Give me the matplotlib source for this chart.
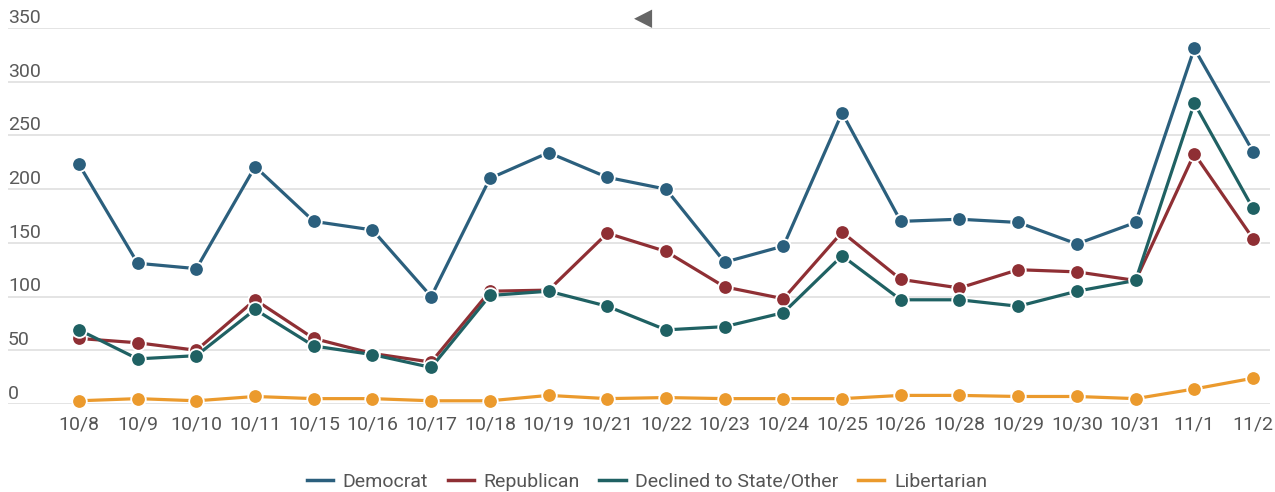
import matplotlib
matplotlib.use("Agg")
import matplotlib.pyplot as plt
import matplotlib.transforms as mtransforms
from matplotlib.lines import Line2D

plt.rcParams["font.family"] = ["Roboto", "DejaVu Sans"]

# data
dates = ["10/8", "10/9", "10/10", "10/11", "10/15", "10/16", "10/17", "10/18", "10/19",
         "10/21", "10/22", "10/23", "10/24", "10/25", "10/26", "10/28", "10/29", "10/30",
         "10/31", "11/1", "11/2"]
democrat = [223, 131, 126, 221, 170, 162, 100, 210, 234, 211, 200, 132, 147, 271, 170,
            172, 169, 149, 169, 331, 235]
republican = [61, 57, 50, 97, 61, 47, 39, 105, 106, 159, 142, 109, 98, 160, 116, 108,
              125, 123, 115, 233, 154]
declined = [69, 42, 45, 88, 54, 46, 34, 101, 105, 91, 69, 72, 85, 138, 97, 97, 91, 105,
            115, 280, 182]
libertarian = [3, 5, 3, 7, 5, 5, 3, 3, 8, 5, 6, 5, 5, 5, 8, 8, 7, 7, 5, 14, 24]
yticks = [0, 50, 100, 150, 200, 250, 300, 350]

series = [
    ("Democrat", democrat, "#2b5f7d"),
    ("Republican", republican, "#8f2f34"),
    ("Declined to State/Other", declined, "#1f6163"),
    ("Libertarian", libertarian, "#eb9a2d"),
]

W, H = 1275, 492
fig = plt.figure(figsize=(W / 100, H / 100), dpi=100)
fig.set_facecolor("white")
ax = fig.add_axes([8 / W, (H - 404) / H, (1270 - 8) / W, (404 - 28) / H])

x = list(range(len(dates)))
for name, vals, col in series:
    ax.plot(x, vals, color=col, linewidth=2.3, marker="o", markersize=10.5,
            markeredgecolor="white", markeredgewidth=1.3, clip_on=False, zorder=3)

ax.set_xlim(-71 / 58.7, 20 + 17 / 58.7)
ax.set_ylim(0, 350)
for s in ax.spines.values():
    s.set_visible(False)

ax.set_yticks(yticks)
ax.yaxis.grid(True, color="#dddddd", linewidth=1.1)
ax.set_axisbelow(True)
ax.tick_params(axis="y", length=0, labelleft=False)
trans = mtransforms.blended_transform_factory(ax.transAxes, ax.transData)
for v in yticks:
    ax.text(0.0, v + 4.8, str(v), transform=trans, ha="left", va="baseline",
            fontsize=14, color="#5a5a5a")

ax.set_xticks(x)
ax.set_xticklabels(dates, fontsize=14, color="#555555")
ax.tick_params(axis="x", length=0, pad=8)

handles = [Line2D([0], [0], color=col, linewidth=2.5) for _, _, col in series]
fig.legend(handles, [n for n, _, _ in series], loc="center",
           bbox_to_anchor=(647 / W, (H - 482) / H),
           ncol=4, frameon=False, fontsize=14, handlelength=1.35, handletextpad=0.5,
           columnspacing=1.0, labelcolor="#555555")

# navigation arrow at the top
fig.text(643 / W, 1 - 18 / H, "\u25C0", ha="center", va="center", fontsize=17,
         color="#666666", family="DejaVu Sans")

fig.savefig("out.png", dpi=100)
